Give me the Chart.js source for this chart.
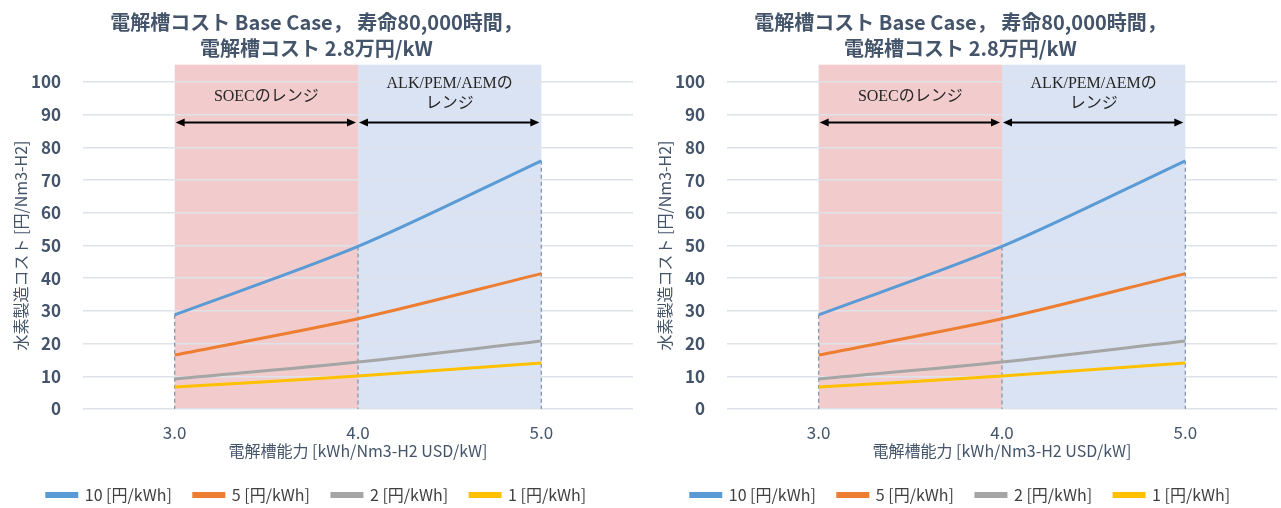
<!DOCTYPE html>
<html>
<head>
<meta charset="utf-8">
<script src="https://cdn.jsdelivr.net/npm/chart.js@4"></script>
<style>
body { margin: 0; background: #fff; width: 1281px; height: 508px; overflow: hidden; position: relative; }
.box { position: absolute; top: 0; height: 508px; }
</style>
</head>
<body>
<div class="box" style="left:0;width:640px"><canvas id="chartA"></canvas></div>
<div class="box" style="left:644px;width:637px"><canvas id="chartB"></canvas></div>
<script>
// x categories (kWh/Nm3-H2) and hydrogen cost per electricity price
const categories = ['3.0', '4.0', '5.0']
const cost10 = [28.8, 49.7, 75.9]
const cost5 = [16.5, 27.6, 41.4]
const cost2 = [9.2, 14.4, 20.8]
const cost1 = [6.7, 10.1, 14.1]
const seriesNames = ['10 [円/kWh]', '5 [円/kWh]', '2 [円/kWh]', '1 [円/kWh]']
const seriesColors = ['#5B9BD5', '#ED7D31', '#A5A5A5', '#FFC000']
const yTicks = [0, 10, 20, 30, 40, 50, 60, 70, 80, 90, 100]

const titleLines = ['電解槽コスト Base Case， 寿命80,000時間，', '電解槽コスト 2.8万円/kW']
const yTitle = '水素製造コスト [円/Nm3-H2]'
const xTitle = '電解槽能力 [kWh/Nm3-H2 USD/kW]'

// shaded technology ranges
const rangeFrom = ['3.0', '4.0']
const rangeTo = ['4.0', '5.0']
const rangeText = [['SOECのレンジ'], ['ALK/PEM/AEMの', 'レンジ']]
const rangeTextY = [[95.5], [99.6, 93.4]]
const rangeColors = ['#F2CCCC', '#DAE3F3']
const rangeTop = 105.3
const arrowY = 87.6

const sans = "'Liberation Sans Narrow', 'Noto Sans CJK JP', sans-serif"
const serif = "'Liberation Serif', 'Noto Sans CJK JP', serif"
const textColor = '#44546A'

function arrow(ctx, x0, x1, y) {
  const h = 9, w = 4
  ctx.beginPath()
  ctx.moveTo(x0 + h - 1, y)
  ctx.lineTo(x1 - h + 1, y)
  ctx.stroke()
  ctx.beginPath()
  ctx.moveTo(x0, y); ctx.lineTo(x0 + h, y - w); ctx.lineTo(x0 + h, y + w); ctx.closePath()
  ctx.moveTo(x1, y); ctx.lineTo(x1 - h, y - w); ctx.lineTo(x1 - h, y + w); ctx.closePath()
  ctx.fill()
}

const rangePlugin = {
  id: 'ranges',
  beforeDraw(chart) {
    const {ctx, scales: {x, y}, chartArea} = chart
    ctx.save()
    rangeFrom.forEach((from, i) => {
      const x0 = x.getPixelForValue(categories.indexOf(from))
      const x1 = x.getPixelForValue(categories.indexOf(rangeTo[i]))
      const top = y.getPixelForValue(rangeTop)
      ctx.fillStyle = rangeColors[i]
      ctx.fillRect(x0, top, x1 - x0, chartArea.bottom - top)
    })
    ctx.restore()
  },
  beforeDatasetsDraw(chart) {
    // drop lines from the highest series down to the axis
    const {ctx, scales: {x, y}} = chart
    ctx.save()
    ctx.strokeStyle = '#8497B0'
    ctx.lineWidth = 1.3
    ctx.setLineDash([4, 3])
    categories.forEach((c, i) => {
      const top = Math.max(...chart.data.datasets.map(d => d.data[i]))
      const px = x.getPixelForValue(i)
      ctx.beginPath()
      ctx.moveTo(px, y.getPixelForValue(top))
      ctx.lineTo(px, y.getPixelForValue(0))
      ctx.stroke()
    })
    ctx.restore()
  },
  afterDraw(chart) {
    const {ctx, scales: {x, y}} = chart
    ctx.save()
    ctx.strokeStyle = '#000'
    ctx.lineWidth = 2
    rangeFrom.forEach((from, i) => {
      const x0 = x.getPixelForValue(categories.indexOf(from))
      const x1 = x.getPixelForValue(categories.indexOf(rangeTo[i]))
      ctx.fillStyle = '#000'
      arrow(ctx, x0 + 1, x1 - 2, y.getPixelForValue(arrowY))
      ctx.fillStyle = '#262626'
      ctx.font = '16px ' + serif
      ctx.textAlign = 'center'
      ctx.textBaseline = 'middle'
      rangeText[i].forEach((t, k) => ctx.fillText(t, (x0 + x1) / 2, y.getPixelForValue(rangeTextY[i][k])))
    })
    ctx.restore()
  }
}

function makeChart(id, width) {
  const datasets = [cost10, cost5, cost2, cost1].map((d, i) => ({
    label: seriesNames[i],
    data: d,
    borderColor: seriesColors[i],
    backgroundColor: seriesColors[i],
    borderWidth: 3,
    pointRadius: 0,
    tension: 0.3
  }))
  return new Chart(document.getElementById(id), {
    type: 'line',
    data: {labels: categories, datasets},
    plugins: [rangePlugin],
    options: {
      responsive: true,
      maintainAspectRatio: false,
      animation: false,
      layout: {padding: {left: 0, right: width - 633, top: 0, bottom: -5}},
      plugins: {
        title: {
          display: true,
          text: titleLines,
          color: textColor,
          font: {family: sans, size: 20, weight: 'bold', lineHeight: 1.3},
          padding: {top: 9, bottom: 21}
        },
        legend: {
          position: 'bottom',
          labels: {
            color: '#404040',
            font: {family: sans, size: 16},
            boxWidth: 30,
            boxHeight: 3,
            padding: 22
          }
        },
        tooltip: {enabled: false}
      },
      scales: {
        x: {
          offset: true,
          grid: {display: false, drawTicks: false},
          border: {display: false},
          ticks: {color: textColor, font: {family: sans, size: 17}, padding: 13},
          title: {display: true, text: xTitle, color: textColor, font: {family: sans, size: 16}, padding: {top: 0, bottom: 4}},
          afterFit: s => { s.height = 56 }
        },
        y: {
          min: 0,
          max: 100,
          afterBuildTicks: s => { s.ticks = yTicks.map(v => ({value: v})) },
          grid: {color: '#DEE2E9', lineWidth: 1.5, drawTicks: false},
          border: {display: false},
          ticks: {color: textColor, font: {family: sans, size: 17, weight: 'bold'}, padding: 22},
          title: {display: true, text: yTitle, color: textColor, font: {family: sans, size: 16}, padding: {top: 11, bottom: 0}},
          afterFit: s => { s.width = 83 }
        }
      }
    }
  })
}

makeChart('chartA', 640)
makeChart('chartB', 637)
</script>
</body>
</html>
